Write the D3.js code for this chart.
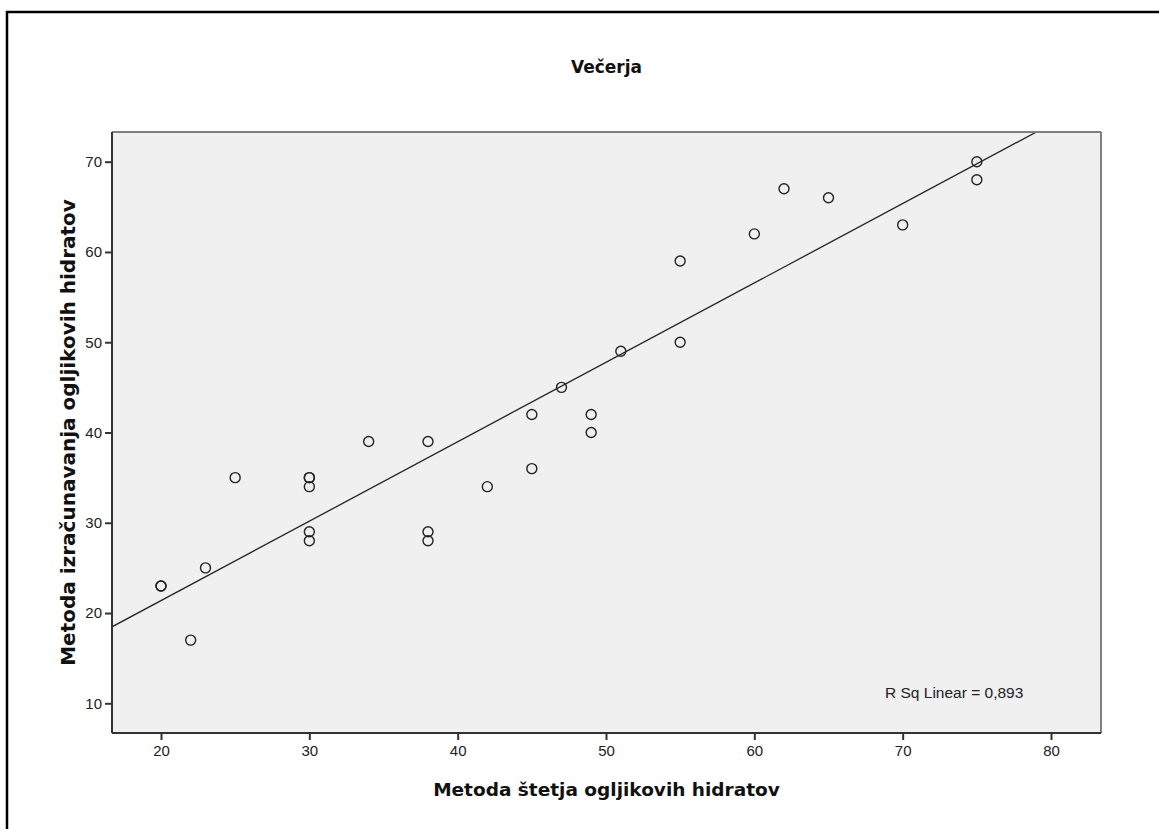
<!DOCTYPE html>
<html>
<head>
<meta charset="utf-8">
<script src="https://cdn.jsdelivr.net/npm/d3@7"></script>
<style>
  html, body { margin: 0; padding: 0; background: #fff; }
  svg { display: block; }
</style>
</head>
<body>
<svg id="chart" width="1159" height="829"></svg>
<script>
// Carbohydrate counting vs. calculation method (dinner)
const countingMethod = [20, 20, 22, 23, 25, 30, 30, 30, 30, 30, 34, 38, 38, 38, 42, 45, 45, 47, 49, 49, 51, 55, 55, 60, 62, 65, 70, 75, 75];
const calculationMethod = [23, 23, 17, 25, 35, 35, 35, 34, 29, 28, 39, 39, 29, 28, 34, 42, 36, 45, 42, 40, 49, 59, 50, 62, 67, 66, 63, 70, 68];
const xTicks = [20, 30, 40, 50, 60, 70, 80];
const yTicks = [10, 20, 30, 40, 50, 60, 70];
const titleText = "Večerja";
const xLabel = "Metoda štetja ogljikovih hidratov";
const yLabel = "Metoda izračunavanja ogljikovih hidratov";
const rSqText = "R Sq Linear = 0,893";

const svg = d3.select("#chart");
const plot = { left: 112, top: 132, right: 1101, bottom: 733 };

const x = d3.scaleLinear().domain([20, 80]).range([161, 1051]);
const y = d3.scaleLinear().domain([10, 70]).range([703.3, 161.7]);
const xMin = x.invert(plot.left), xMax = x.invert(plot.right);
const yMin = y.invert(plot.bottom), yMax = y.invert(plot.top);

// outer frame (left and top edges visible)
svg.append("path")
  .attr("d", `M7,829 L7,12 L1159,12`)
  .attr("fill", "none").attr("stroke", "#000").attr("stroke-width", 2.5);

// plot background
svg.append("rect")
  .attr("x", plot.left).attr("y", plot.top)
  .attr("width", plot.right - plot.left).attr("height", plot.bottom - plot.top)
  .attr("fill", "#f0f0f0");

// least squares fit
const pts = countingMethod.map((v, i) => [v, calculationMethod[i]]);
const mx = d3.mean(countingMethod), my = d3.mean(calculationMethod);
const sxy = d3.sum(pts, p => (p[0] - mx) * (p[1] - my));
const sxx = d3.sum(pts, p => (p[0] - mx) ** 2);
const slope = sxy / sxx, intercept = my - slope * mx;

svg.append("clipPath").attr("id", "plotClip")
  .append("rect").attr("x", plot.left).attr("y", plot.top)
  .attr("width", plot.right - plot.left).attr("height", plot.bottom - plot.top);

let x0 = xMin, x1 = xMax;
if (intercept + slope * x1 > yMax) x1 = (yMax - intercept) / slope;
if (intercept + slope * x0 < yMin) x0 = (yMin - intercept) / slope;
svg.append("line")
  .attr("clip-path", "url(#plotClip)")
  .attr("x1", x(x0)).attr("y1", y(intercept + slope * x0))
  .attr("x2", x(x1)).attr("y2", y(intercept + slope * x1))
  .attr("stroke", "#222").attr("stroke-width", 1.3);

// points
svg.append("g").selectAll("circle")
  .data(pts).join("circle")
  .attr("cx", d => x(d[0])).attr("cy", d => y(d[1]))
  .attr("r", 5)
  .attr("fill", "none").attr("stroke", "#222").attr("stroke-width", 1.4);

// frame of the plot: grey top/right, dark left/bottom
svg.append("line").attr("x1", plot.left).attr("y1", plot.top).attr("x2", plot.right).attr("y2", plot.top)
  .attr("stroke", "#7f7f7f").attr("stroke-width", 2);
svg.append("line").attr("x1", plot.right).attr("y1", plot.top).attr("x2", plot.right).attr("y2", plot.bottom)
  .attr("stroke", "#7f7f7f").attr("stroke-width", 2);

const xAxis = svg.append("g")
  .attr("transform", `translate(0,${plot.bottom})`)
  .call(d3.axisBottom(x).tickValues(xTicks).tickSize(7).tickSizeOuter(0).tickPadding(5));
xAxis.select(".domain").attr("d", `M${plot.left},0H${plot.right}`).attr("stroke", "#333").attr("stroke-width", 2);

const yAxis = svg.append("g")
  .attr("transform", `translate(${plot.left},0)`)
  .call(d3.axisLeft(y).tickValues(yTicks).tickSize(7).tickSizeOuter(0).tickPadding(3));
yAxis.select(".domain").attr("d", `M0,${plot.top}V${plot.bottom}`).attr("stroke", "#333").attr("stroke-width", 2);

[xAxis, yAxis].forEach(a => {
  a.selectAll(".tick line").attr("stroke", "#333").attr("stroke-width", 2);
  a.selectAll(".tick text")
    .attr("font-family", "Liberation Sans, Arial, sans-serif")
    .attr("font-size", 15).attr("fill", "#222");
});

// texts
svg.append("text")
  .attr("x", (plot.left + plot.right) / 2).attr("y", 73)
  .attr("text-anchor", "middle")
  .attr("font-family", "DejaVu Sans, sans-serif").attr("font-weight", "bold")
  .attr("font-size", 17).attr("fill", "#111")
  .text(titleText);

svg.append("text")
  .attr("x", (plot.left + plot.right) / 2).attr("y", 796)
  .attr("text-anchor", "middle")
  .attr("font-family", "DejaVu Sans, sans-serif").attr("font-weight", "bold")
  .attr("font-size", 18.5).attr("fill", "#111")
  .text(xLabel);

svg.append("text")
  .attr("transform", `translate(75,${(plot.top + plot.bottom) / 2}) rotate(-90)`)
  .attr("text-anchor", "middle")
  .attr("font-family", "DejaVu Sans, sans-serif").attr("font-weight", "bold")
  .attr("font-size", 20).attr("fill", "#111")
  .text(yLabel);

svg.append("text")
  .attr("x", 885).attr("y", 698)
  .attr("font-family", "Liberation Sans, Arial, sans-serif")
  .attr("font-size", 15.5).attr("fill", "#222")
  .text(rSqText);
</script>
</body>
</html>
